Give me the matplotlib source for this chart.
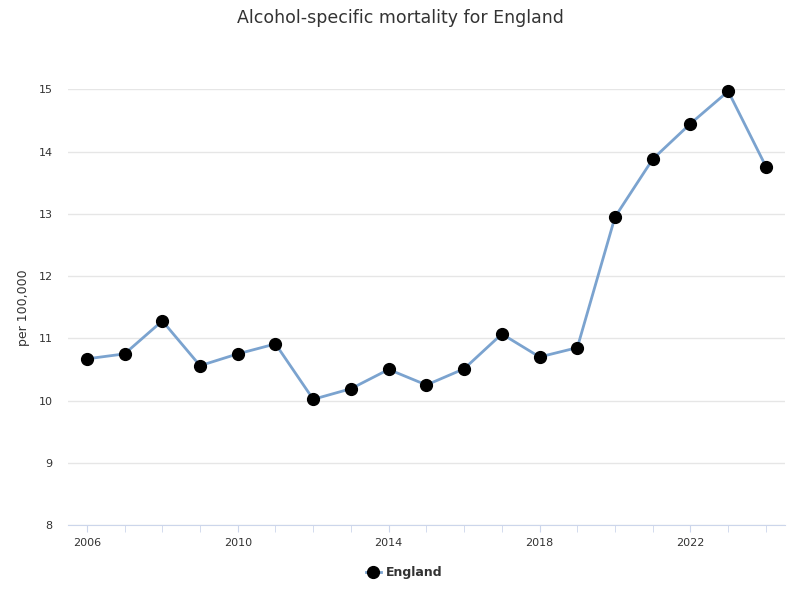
import matplotlib
matplotlib.use("Agg")
import matplotlib.pyplot as plt
from matplotlib.ticker import MultipleLocator

years = list(range(2006, 2025))
england = [10.67, 10.75, 11.28, 10.56, 10.75, 10.91, 10.02, 10.19, 10.50, 10.25,
           10.51, 11.07, 10.70, 10.85, 12.95, 13.88, 14.45, 14.97, 13.76]
y_ticks = [8, 9, 10, 11, 12, 13, 14, 15]
x_ticks = [2006, 2010, 2014, 2018, 2022]

plt.rcParams['font.family'] = ['DejaVu Sans']
fig = plt.figure(figsize=(8, 6), dpi=100)
ax = fig.add_axes([0.085, 0.125, 0.896, 0.726])

ax.plot(years, england, color='#7ba3cf', lw=2.0, marker='o', markersize=8.5,
        markerfacecolor='black', markeredgecolor='black', clip_on=False, zorder=3,
        label='England')

ax.set_xlim(2005.5, 2024.5)
ax.set_ylim(8, 15)
ax.set_yticks(y_ticks)
ax.set_xticks(x_ticks)
ax.xaxis.set_minor_locator(MultipleLocator(1))
ax.grid(axis='y', color='#e6e6e6', lw=1)
ax.set_axisbelow(True)
for s in ['top', 'right', 'left']:
    ax.spines[s].set_visible(False)
ax.spines['bottom'].set_color('#ccd6eb')
ax.tick_params(axis='y', length=0, labelsize=8, labelcolor='#333333', pad=11)
ax.tick_params(axis='x', which='both', length=5, color='#ccd6eb', labelsize=8,
               labelcolor='#333333', pad=4)
ax.set_ylabel('per 100,000', fontsize=9, color='#333333', labelpad=6)

fig.suptitle('Alcohol-specific mortality for England', fontsize=12.5, color='#333333', y=0.985)

leg = fig.legend(loc='center', bbox_to_anchor=(0.505, 0.046), frameon=False,
                 fontsize=9, handlelength=1.2, handletextpad=0.4)
for t in leg.get_texts():
    t.set_fontweight('bold')
    t.set_color('#333333')

fig.savefig('out.png', dpi=100)
